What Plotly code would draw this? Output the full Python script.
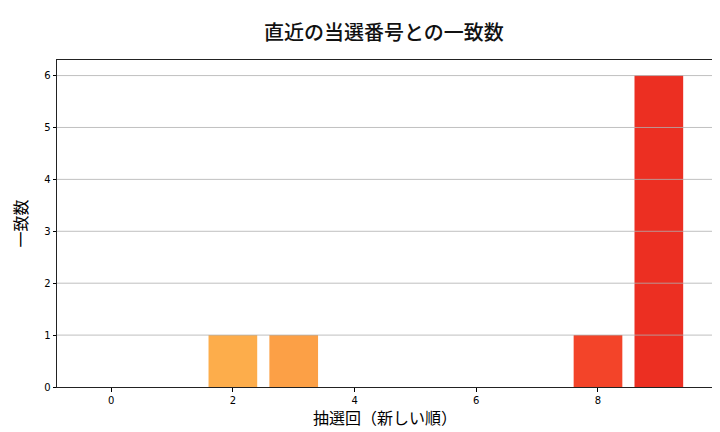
import plotly.graph_objects as go

draws = [0, 1, 2, 3, 4, 5, 6, 7, 8, 9]
matches = [0, 0, 1, 1, 0, 0, 0, 0, 1, 6]
bar_colors = ["#FFE08A", "#FED06A", "#FDAD4B", "#FCA046", "#FC8C3C",
              "#FC7234", "#F95C2E", "#F64D2B", "#F34429", "#EC2F22"]
x_ticks = [0, 2, 4, 6, 8]
y_ticks = [0, 1, 2, 3, 4, 5, 6]

title = "直近の当選番号との一致数"
x_title = "抽選回（新しい順）"
y_title = "一致数"

fig = go.Figure()
fig.add_trace(go.Bar(
    x=draws, y=matches, width=0.8,
    marker=dict(color=bar_colors, line=dict(width=0)),
    showlegend=False,
))

# grid lines drawn above bars (matplotlib style)
for v in y_ticks[1:]:
    fig.add_shape(type="line", xref="paper", x0=0, x1=1, yref="y", y0=v, y1=v,
                  line=dict(color="#b0b0b0", width=0.8), layer="above")

fig.update_layout(
    width=720, height=432,
    margin=dict(l=49, r=15, t=52, b=53),
    paper_bgcolor="white", plot_bgcolor="white",
    title=dict(text=title, x=0.522, xanchor="center", y=0.942, yanchor="middle",
               font=dict(family="Noto Sans CJK JP", size=20, color="#111111", weight=500)),
    font=dict(family="DejaVu Sans", size=10, color="black"),
    bargap=0.2,
)
fig.update_xaxes(
    range=[-0.89, 9.89], tickvals=x_ticks, ticktext=[str(t) for t in x_ticks],
    ticks="outside", ticklen=3.5, tickwidth=0.8, tickcolor="black",
    showline=True, linecolor="#222222", linewidth=1, mirror=True,
    showgrid=False, zeroline=False,
    tickfont=dict(family="DejaVu Sans", size=10),
    title=dict(text=x_title, font=dict(family="Noto Sans CJK JP", size=16), standoff=4),
)
fig.update_yaxes(
    range=[0, 6.3], tickvals=y_ticks, ticktext=[str(t) for t in y_ticks],
    ticks="outside", ticklen=3.5, tickwidth=0.8, tickcolor="black",
    showline=True, linecolor="#222222", linewidth=1, mirror=True,
    showgrid=False, zeroline=False,
    tickfont=dict(family="DejaVu Sans", size=10),
    title=dict(text=y_title, font=dict(family="Noto Sans CJK JP", size=16), standoff=12),
)

fig.write_html("out.html")
